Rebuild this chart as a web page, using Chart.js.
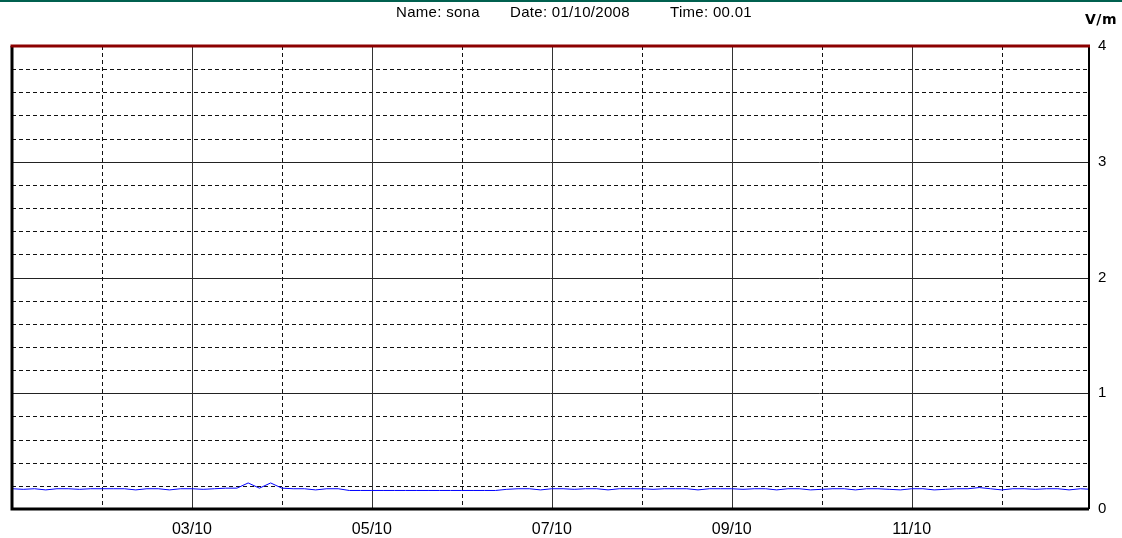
<!DOCTYPE html>
<html>
<head>
<meta charset="utf-8">
<script src="https://cdn.jsdelivr.net/npm/chart.js@4"></script>
<style>
html,body{margin:0;padding:0;background:#fff;}
#wrap{width:1122px;height:538px;position:relative;}
</style>
</head>
<body>
<div id="wrap"><canvas id="myChart"></canvas></div>
<script>
// header text
const headerParts = ["Name: sona", "Date: 01/10/2008", "Time: 00.01"]
const unitLabel = "V/m"

// samples every 3 hours starting 01/10 00:00
const stepHours = 3
const fieldValues = [
0.175,0.17,0.175,0.165,0.175,0.175,0.17,0.175,0.175,0.175,
0.175,0.165,0.175,0.175,0.165,0.175,0.175,0.17,0.175,0.18,
0.18,0.225,0.18,0.225,0.18,0.175,0.175,0.165,0.175,0.175,
0.16,0.16,0.16,0.16,0.16,0.16,0.16,0.16,0.16,0.16,
0.16,0.16,0.16,0.16,0.17,0.175,0.175,0.165,0.175,0.175,
0.17,0.175,0.175,0.165,0.175,0.175,0.175,0.17,0.175,0.175,
0.175,0.165,0.175,0.175,0.175,0.17,0.175,0.175,0.165,0.175,
0.175,0.165,0.17,0.175,0.175,0.165,0.175,0.175,0.17,0.165,
0.175,0.175,0.165,0.17,0.175,0.175,0.185,0.175,0.165,0.175,
0.175,0.17,0.175,0.175,0.165,0.175,0.17
]

// x ticks (hours since 01/10 00:00)
const xTickHours = [48, 96, 144, 192, 240]
const xTickLabels = ["03/10", "05/10", "07/10", "09/10", "11/10"]
const xEndHours = 287.3

const yTickLabels = ["0", "1", "2", "3", "4"]

const points = fieldValues.map((v, i) => ({x: i * stepHours, y: v}))

const gridPlugin = {
  id: "gridPlugin",
  beforeDatasetsDraw(chart){
    const ctx = chart.ctx
    const a = chart.chartArea
    const xs = chart.scales.x
    const ys = chart.scales.y
    ctx.save()
    ctx.lineWidth = 1
    // horizontal
    for (let k = 1; k < 20; k++){
      const val = k * 0.2
      const py = Math.round(ys.getPixelForValue(val)) + 0.5
      const solid = k % 5 === 0
      ctx.strokeStyle = solid ? "#222" : "#111"
      ctx.setLineDash(solid ? [] : [4, 3])
      ctx.beginPath()
      ctx.moveTo(a.left, py)
      ctx.lineTo(a.right, py)
      ctx.stroke()
    }
    // vertical
    for (let h = 24; h < xEndHours; h += 24){
      const px = Math.round(xs.getPixelForValue(h)) + 0.5
      const solid = xTickHours.includes(h)
      ctx.strokeStyle = solid ? "#333" : "#111"
      ctx.setLineDash(solid ? [] : [4, 3])
      ctx.beginPath()
      ctx.moveTo(px, a.top)
      ctx.lineTo(px, a.bottom)
      ctx.stroke()
    }
    ctx.restore()
  },
  afterDraw(chart){
    const ctx = chart.ctx
    const a = chart.chartArea
    ctx.save()
    ctx.setLineDash([])
    // frame
    ctx.strokeStyle = "#000"
    ctx.lineWidth = 3
    ctx.beginPath()
    ctx.moveTo(a.left, a.top)
    ctx.lineTo(a.left, a.bottom)
    ctx.lineTo(a.right, a.bottom)
    ctx.stroke()
    ctx.lineWidth = 2
    ctx.beginPath()
    ctx.moveTo(a.right, a.bottom)
    ctx.lineTo(a.right, a.top)
    ctx.stroke()
    ctx.strokeStyle = "#8c0000"
    ctx.lineWidth = 3
    ctx.beginPath()
    ctx.moveTo(a.left - 1.5, a.top)
    ctx.lineTo(a.right + 1, a.top)
    ctx.stroke()
    // top green strip
    ctx.fillStyle = "#00604f"
    ctx.fillRect(0, 0, chart.width, 2)
    // header
    ctx.fillStyle = "#000"
    ctx.font = "15px 'Liberation Sans', Arial, sans-serif"
    ctx.letterSpacing = "0.3px"
    ctx.textBaseline = "alphabetic"
    ctx.textAlign = "left"
    const hx = [396, 510, 670]
    headerParts.forEach((t, i) => ctx.fillText(t, hx[i], 17))
    ctx.letterSpacing = "0.5px"
    ctx.font = "bold 14px 'DejaVu Sans', sans-serif"
    ctx.fillText(unitLabel, 1085, 24)
    ctx.restore()
  }
}

new Chart(
document.getElementById("myChart"),
{
type: "line",
data: {
datasets: [{
data: points,
borderColor: "#0000ff",
borderWidth: 1,
pointRadius: 0,
tension: 0,
fill: false
}]
},
options: {
responsive: true,
maintainAspectRatio: false,
animation: false,
devicePixelRatio: 1,
layout: {padding: {top: 46, left: 12, right: 0, bottom: 0}},
plugins: {legend: {display: false}, tooltip: {enabled: false}, title: {display: false}},
scales: {
x: {
type: "linear",
min: 0,
max: xEndHours,
grid: {display: false},
border: {display: false},
afterBuildTicks(s){ s.ticks = xTickHours.map(h => ({value: h})) },
afterFit(s){ s.height = 29 },
ticks: {
autoSkip: false,
maxRotation: 0,
padding: 3,
color: "#000",
font: {family: "'Liberation Sans', Arial, sans-serif", size: 16},
callback: (v) => xTickLabels[xTickHours.indexOf(v)] || ""
}
},
y: {
position: "right",
min: 0,
max: 4,
grid: {display: false},
border: {display: false},
afterFit(s){ s.width = 33 },
ticks: {
stepSize: 1,
padding: 1,
color: "#000",
font: {family: "'Liberation Sans', Arial, sans-serif", size: 15},
callback: (v) => yTickLabels[v] ?? ""
}
}
}
},
plugins: [gridPlugin]
})
</script>
</body>
</html>
